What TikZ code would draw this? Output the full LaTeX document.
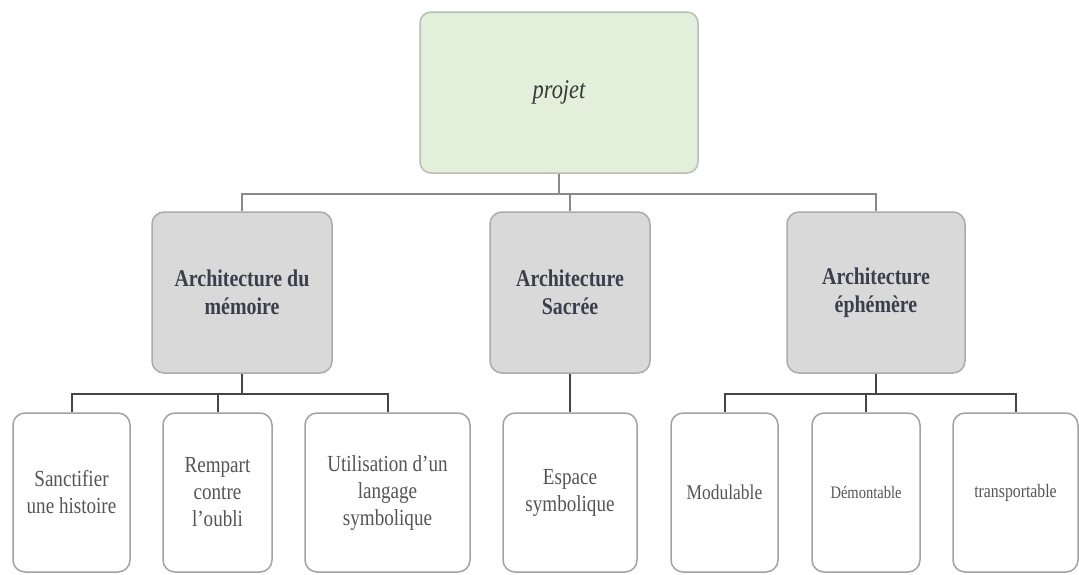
\documentclass[tikz,border=0pt]{standalone}
\usepackage{fontspec}
\setmainfont{Liberation Serif}
\newfontfamily\narrowserif[FakeStretch=0.83]{Liberation Serif}
\usetikzlibrary{positioning,calc}

\definecolor{projetfill}{HTML}{E2EFDA}
\definecolor{projetline}{HTML}{B9BDB5}
\definecolor{archfill}{HTML}{D9D9D9}
\definecolor{archline}{HTML}{ABABAB}
\definecolor{leafline}{HTML}{A2A2A2}
\definecolor{linkgray}{HTML}{8A8A8A}
\definecolor{linkdark}{HTML}{454545}
\definecolor{archtext}{HTML}{3B3F4C}
\definecolor{leaftext}{HTML}{555555}

\begin{document}
\begin{tikzpicture}[x=1pt,y=1pt,
  topbox/.style={draw=projetline, line width=1.5pt, rounded corners=11pt, fill=projetfill,
    minimum width=278pt, minimum height=161pt, text=black!78,
    font=\narrowserif\itshape\fontsize{27}{30}\selectfont},
  archbox/.style={draw=archline, line width=1.5pt, rounded corners=12pt, fill=archfill,
    minimum height=161pt, align=center, text=archtext,
    font=\narrowserif\bfseries\fontsize{24}{28}\selectfont},
  leafbox/.style={draw=leafline, line width=1.5pt, rounded corners=12pt, fill=white,
    minimum height=159pt, align=center, text=leaftext,
    font=\narrowserif\fontsize{23}{27}\selectfont},
  toplink/.style={draw=linkgray, line width=1.6pt},
  leaflink/.style={draw=linkdark, line width=2pt}]

\path[use as bounding box, fill=white] (0,0) rectangle (1079,-574);

% root
\node[topbox] (projet) at (559,-92.5) {projet};

% second level
\node[archbox, minimum width=180pt] (memoire) at (242,-292.5) {Architecture du\\mémoire};
\node[archbox, minimum width=160pt] (sacree) at (570,-292.5) {Architecture\\Sacrée};
\node[archbox, minimum width=178pt] (ephem) at (876,-292.5) {Architecture\\éphémère};

% leaves
\node[leafbox, minimum width=117pt] (sanct) at (71.5,-492.5) {Sanctifier\\une histoire};
\node[leafbox, minimum width=109pt] (rempart) at (217.5,-492.5) {Rempart\\contre\\l’oubli};
\node[leafbox, minimum width=165pt] (langage) at (387.5,-492.5) {Utilisation d’un\\langage\\symbolique};
\node[leafbox, minimum width=134pt] (espace) at (570,-492.5) {Espace\\symbolique};
\node[leafbox, minimum width=107pt] (modul) at (724.5,-492.5) {\fontsize{21}{25}\selectfont Modulable};
\node[leafbox, minimum width=108pt] (demont) at (866,-492.5) {\fontsize{17.5}{21}\selectfont Démontable};
\node[leafbox, minimum width=125pt] (transp) at (1015.5,-492.5) {\fontsize{19}{23}\selectfont transportable};

% root to second level
\draw[toplink] (projet.south) -- ++(0,-20) coordinate (roothub);
\draw[toplink] (memoire.north) |- (roothub) -| (ephem.north);
\draw[toplink] (sacree.north) -- (sacree.north |- roothub);

% second level to leaves
\draw[leaflink] (memoire.south) -- ++(0,-20) coordinate (memhub);
\draw[leaflink] (sanct.north) |- (memhub) -| (langage.north);
\draw[leaflink] (rempart.north) -- (rempart.north |- memhub);
\draw[leaflink] (sacree.south) -- (espace.north);
\draw[leaflink] (ephem.south) -- ++(0,-20) coordinate (ephhub);
\draw[leaflink] (modul.north) |- (ephhub) -| (transp.north);
\draw[leaflink] (demont.north) -- (demont.north |- ephhub);
\end{tikzpicture}
\end{document}
